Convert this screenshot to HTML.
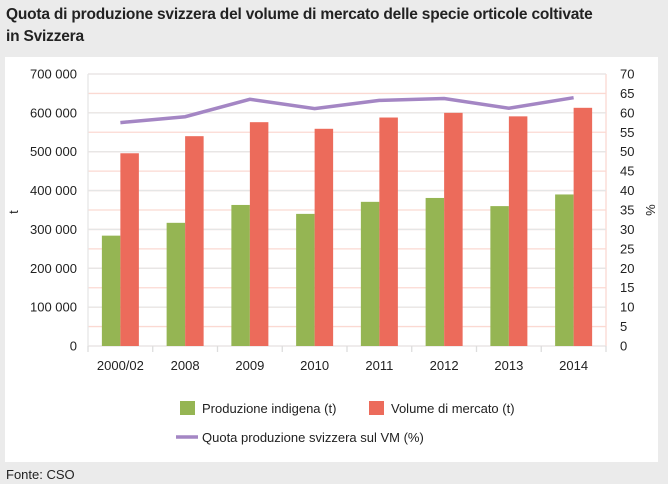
<!DOCTYPE html>
<html><head><meta charset="utf-8"><style>
body{margin:0;width:668px;height:484px;background:#ebebeb;font-family:"Liberation Sans",sans-serif;overflow:hidden;position:relative}
.title{position:absolute;left:6px;top:4px;font-size:15.5px;font-weight:bold;line-height:22px;color:#222;letter-spacing:-0.2px}
.panel{position:absolute;left:5px;top:57px;width:653px;height:405px;background:#fff}
.foot{position:absolute;left:6px;top:467px;font-size:13px;color:#222}
svg{position:absolute;left:0;top:0}
</style></head><body>
<div class="title">Quota di produzione svizzera del volume di mercato delle specie orticole coltivate<br>in Svizzera</div>
<div class="panel"></div>
<div class="foot">Fonte: CSO</div>
<svg id="c" width="668" height="484"></svg>
<script>
const categories=["2000/02","2008","2009","2010","2011","2012","2013","2014"];
const production=[284000,317000,363000,340000,371000,381000,360000,390000];
const marketVolume=[496000,540000,576000,559000,588000,600000,591000,613000];
const share=[57.5,59.0,63.5,61.1,63.2,63.7,61.2,63.9];
const leftTicks=[0,100000,200000,300000,400000,500000,600000,700000];
const rightTicks=[0,5,10,15,20,25,30,35,40,45,50,55,60,65,70];
const NS="http://www.w3.org/2000/svg";
const svg=document.getElementById('c');
const X0=88,X1=606,Y0=346,Y1=74;
const yL=v=>Y0-(v/700000)*(Y0-Y1);
const yR=v=>Y0-(v/70)*(Y0-Y1);
const bw=(X1-X0)/categories.length;
const xc=i=>X0+bw*(i+0.5);
function mk(t,a,txt){const e=document.createElementNS(NS,t);for(const k in a)e.setAttribute(k,a[k]);if(txt!==undefined)e.textContent=txt;svg.appendChild(e);return e;}
rightTicks.forEach(v=>{
 const l=mk('line',{x1:X0,x2:X1,y1:yR(v),y2:yR(v),stroke:'#fbd9d2','stroke-width':1.3});
 
 
 const t=mk('text',{x:X1+14,y:yR(v)+4.5,'font-size':13,fill:'#222'},String(v));
 
 
});
mk('line',{x1:X1,x2:X1,y1:Y1,y2:Y0,stroke:'#fbd9d2','stroke-width':1.3});
leftTicks.forEach(v=>{
 const l=mk('line',{x1:X0,x2:X1,y1:yL(v),y2:yL(v),stroke:'#e6e6e6','stroke-width':1.3});
 
 
 const t=mk('text',{x:77,y:yL(v)+4.5,'font-size':13,fill:'#222','text-anchor':'end'},v===0?'0':(v/1000)+' 000');
 
 
});
mk('line',{x1:X0,x2:X0,y1:Y1,y2:Y0,stroke:'#e6e6e6','stroke-width':1.3});
for(let i=0;i<=categories.length;i++){mk('line',{x1:X0+bw*i,x2:X0+bw*i,y1:Y0,y2:Y0+6,stroke:'#ddd','stroke-width':1.3});}
const BW=18.5;
categories.forEach((c,i)=>{
 const g=mk('rect',{x:xc(i)-BW,y:yL(production[i]),width:BW,height:Y0-yL(production[i]),fill:'#95b553'});
 
 
 const r=mk('rect',{x:xc(i),y:yL(marketVolume[i]),width:BW,height:Y0-yL(marketVolume[i]),fill:'#ec6b5b'});
 
 
 const t=mk('text',{x:xc(i),y:370,'font-size':13,fill:'#222','text-anchor':'middle'},c);
 
 
});
const pl=mk('polyline',{points:share.map((v,i)=>xc(i)+','+yR(v)).join(' '),fill:'none',stroke:'#a486c4','stroke-width':3.5});


const yt=mk('text',{x:18,y:212,'font-size':13,fill:'#222','text-anchor':'middle',transform:'rotate(-90 18 212)'},'t');


const yr=mk('text',{x:646,y:210,'font-size':13,fill:'#222','text-anchor':'middle',transform:'rotate(90 646 210)'},'%');


const l1=mk('rect',{x:180,y:401,width:15,height:14,fill:'#95b553'});


const lt1=mk('text',{x:202,y:413,'font-size':13,fill:'#222'},'Produzione indigena (t)');


const l2=mk('rect',{x:369,y:401,width:15,height:14,fill:'#ec6b5b'});


const lt2=mk('text',{x:391,y:413,'font-size':13,fill:'#222'},'Volume di mercato (t)');


const l3=mk('line',{x1:176,x2:198,y1:437,y2:437,stroke:'#a486c4','stroke-width':3.5});


const lt3=mk('text',{x:202,y:442,'font-size':13,fill:'#222'},'Quota produzione svizzera sul VM (%)');


</script>
</body></html>
